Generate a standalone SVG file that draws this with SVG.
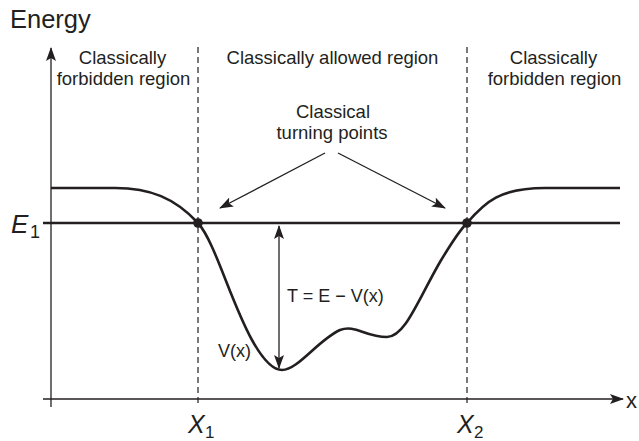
<svg xmlns="http://www.w3.org/2000/svg" width="639" height="441" viewBox="0 0 639 441">
<style>
text{font-family:"Liberation Sans",Arial,sans-serif;fill:#231f20}
.lbl{font-size:18.5px;text-anchor:middle}
.it{font-style:italic}
.thin{stroke:#231f20;stroke-width:1.3;fill:none}
.dash{stroke:#231f20;stroke-width:1.2;stroke-dasharray:6 4;fill:none}
.thick{stroke:#231f20;stroke-width:2.6;fill:none}
</style>
<defs>
<marker id="ah" markerUnits="userSpaceOnUse" markerWidth="14" markerHeight="10" viewBox="0 0 14 10" refX="13" refY="5" orient="auto-start-reverse">
<path d="M0,0 L14,5 L0,10 L3,5 Z" fill="#231f20"/>
</marker>
</defs>
<rect width="639" height="441" fill="#fff"/>
<g id="axes">
<line class="thin" x1="51" y1="407" x2="51" y2="48" marker-end="url(#ah)"/>
<line class="thin" x1="43" y1="399" x2="623" y2="399" marker-end="url(#ah)"/>
<text x="10" y="28" style="font-size:25.5px">Energy</text>
<text x="626" y="408" style="font-size:22px">x</text>
</g>
<g id="dividers">
<line class="dash" x1="198" y1="47" x2="198" y2="407"/>
<line class="dash" x1="467" y1="47" x2="467" y2="407"/>
</g>
<g id="labels">
<text class="lbl" x="122.5" y="64">Classically</text>
<text class="lbl" x="123.5" y="85">forbidden region</text>
<text class="lbl" x="332.5" y="64">Classically allowed region</text>
<text class="lbl" x="553.5" y="64">Classically</text>
<text class="lbl" x="554.5" y="85">forbidden region</text>
</g>
<g id="energy-level">
<line class="thick" x1="43" y1="223" x2="620" y2="223"/>
<text class="it" x="11" y="233" style="font-size:26px">E</text>
<text x="30" y="238" style="font-size:18px">1</text>
</g>
<g id="potential">
<path class="thick" d="M51,188 H115 C150,188 175,198 198,223 C215,242 230,300 252,340 C262,358 272,370 282,370 C298,370 318,340 340,330 C355,324 365,337 387,337 C405,337 418,300 440,262 C452,242 460,230 467,223 C485,202 500,188 545,188 H620"/>
<text x="218" y="357" style="font-size:18px">V(x)</text>
</g>
<g id="turning-points">
<circle cx="198" cy="223" r="4.8" fill="#231f20"/>
<circle cx="467" cy="223" r="4.8" fill="#231f20"/>
<text class="lbl" x="333" y="118">Classical</text>
<text class="lbl" x="332" y="139">turning points</text>
<text class="it" x="188" y="433" style="font-size:25px">X</text>
<text x="205" y="438" style="font-size:17px">1</text>
<text class="it" x="457" y="433" style="font-size:25px">X</text>
<text x="474" y="438" style="font-size:17px">2</text>
</g>
<g id="connectors">
<line class="thin" x1="325" y1="153" x2="220" y2="208" marker-end="url(#ah)"/>
<line class="thin" x1="338" y1="153" x2="445" y2="208" marker-end="url(#ah)"/>
<line class="thin" x1="279" y1="226" x2="279" y2="368" marker-start="url(#ah)" marker-end="url(#ah)"/>
<text x="287" y="302" style="font-size:18px">T = E − V(x)</text>
</g>
</svg>
